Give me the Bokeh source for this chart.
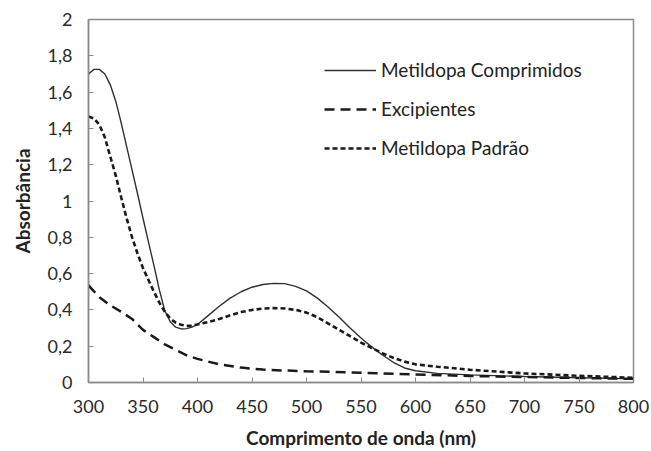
from bokeh.plotting import figure
from bokeh.models import Range1d, FixedTicker, Legend, LegendItem
from bokeh.embed import file_html
from bokeh.resources import INLINE

# Wavelength (nm) and absorbance values
wl_comp = [300, 305, 310, 315, 320, 325, 330, 335, 340, 345, 350, 355, 360, 365, 370, 375,
           380, 385, 390, 395, 400, 410, 420, 430, 440, 450, 460, 470, 480, 490, 500, 510,
           520, 530, 540, 550, 560, 570, 580, 590, 600, 620, 650, 700, 750, 800]
abs_comp = [1.70, 1.725, 1.725, 1.70, 1.64, 1.55, 1.43, 1.30, 1.17, 1.04, 0.905, 0.775, 0.645,
            0.51, 0.395, 0.335, 0.305, 0.295, 0.297, 0.305, 0.32, 0.37, 0.42, 0.465, 0.50,
            0.525, 0.54, 0.546, 0.545, 0.53, 0.505, 0.465, 0.415, 0.36, 0.30, 0.245, 0.195,
            0.15, 0.11, 0.08, 0.065, 0.05, 0.042, 0.033, 0.026, 0.02]

wl_exc = [300, 310, 320, 330, 340, 350, 360, 370, 380, 390, 400, 420, 440, 460, 480, 500,
          550, 600, 650, 700, 750, 800]
abs_exc = [0.535, 0.47, 0.425, 0.39, 0.35, 0.29, 0.25, 0.21, 0.18, 0.15, 0.13, 0.10, 0.082,
           0.071, 0.066, 0.062, 0.054, 0.044, 0.036, 0.03, 0.025, 0.02]

wl_pad = [300, 305, 310, 315, 320, 325, 330, 335, 340, 345, 350, 355, 360, 365, 370, 375,
          380, 385, 390, 395, 400, 410, 420, 430, 440, 450, 460, 470, 480, 490, 500, 510,
          520, 530, 540, 550, 560, 570, 580, 590, 600, 620, 650, 700, 750, 800]
abs_pad = [1.465, 1.455, 1.42, 1.35, 1.245, 1.14, 1.02, 0.905, 0.80, 0.71, 0.63, 0.565, 0.50,
           0.44, 0.39, 0.352, 0.33, 0.318, 0.312, 0.313, 0.32, 0.333, 0.35, 0.37, 0.388,
           0.40, 0.407, 0.41, 0.408, 0.40, 0.385, 0.36, 0.325, 0.29, 0.255, 0.22, 0.19,
           0.16, 0.135, 0.115, 0.10, 0.087, 0.07, 0.05, 0.037, 0.026]

x_ticks = [300, 350, 400, 450, 500, 550, 600, 650, 700, 750, 800]
y_ticks = [0, 0.2, 0.4, 0.6, 0.8, 1.0, 1.2, 1.4, 1.6, 1.8, 2.0]
y_tick_labels = ["0", "0,2", "0,4", "0,6", "0,8", "1", "1,2", "1,4", "1,6", "1,8", "2"]

FONT = "Lato"
GRAY = "#8a8a8a"
TXT = "#2a2a2a"

p = figure(width=651, height=451, output_backend="svg", toolbar_location=None,
           x_range=Range1d(300, 800), y_range=Range1d(0, 2),
           min_border_left=88, min_border_right=18, min_border_top=19, min_border_bottom=67)
p.background_fill_color = "white"
p.border_fill_color = "white"
p.outline_line_color = GRAY
p.outline_line_width = 1.5
p.grid.visible = False

for ax in (p.xaxis[0], p.yaxis[0]):
    ax.axis_line_color = GRAY
    ax.axis_line_width = 1.5
    ax.major_tick_line_color = GRAY
    ax.major_tick_in = 5
    ax.major_tick_out = 0
    ax.minor_tick_line_color = None
    ax.major_label_text_font = FONT
    ax.major_label_text_font_size = "18px"
    ax.major_label_text_color = TXT
    ax.axis_label_text_font = FONT
    ax.axis_label_text_font_style = "bold"
    ax.axis_label_text_font_size = "19px"
    ax.axis_label_text_color = "#222222"

p.xaxis.ticker = FixedTicker(ticks=x_ticks)
p.yaxis.ticker = FixedTicker(ticks=y_ticks)
p.yaxis.major_label_overrides = {t: l for t, l in zip(y_ticks, y_tick_labels)}
p.xaxis.axis_label = "Comprimento de onda (nm)"
p.yaxis.axis_label = "Absorbância"
p.xaxis.major_label_standoff = 17
p.xaxis.axis_label_standoff = 10
p.yaxis.major_label_standoff = 16
p.yaxis.axis_label_standoff = 11

r1 = p.line(wl_comp, abs_comp, line_color="#303030", line_width=1.4)
r2 = p.line(wl_exc, abs_exc, line_color="#1a1a1a", line_width=2.5, line_dash="10 6")
r3 = p.line(wl_pad, abs_pad, line_color="#1a1a1a", line_width=2.6, line_dash="5 3")

legend = Legend(items=[LegendItem(label="Metildopa Comprimidos", renderers=[r1]),
                       LegendItem(label="Excipientes", renderers=[r2]),
                       LegendItem(label="Metildopa Padrão", renderers=[r3])],
                location=(236, 223), orientation="vertical")
legend.border_line_color = None
legend.background_fill_alpha = 0
legend.padding = 0
legend.margin = 0
legend.glyph_width = 52
legend.glyph_height = 20
legend.label_height = 20
legend.spacing = 16
legend.label_standoff = 5
legend.label_text_font = FONT
legend.label_text_font_size = "19px"
legend.label_text_color = "#222222"
p.add_layout(legend, "center")

open("out.html", "w").write(file_html(p, INLINE))
